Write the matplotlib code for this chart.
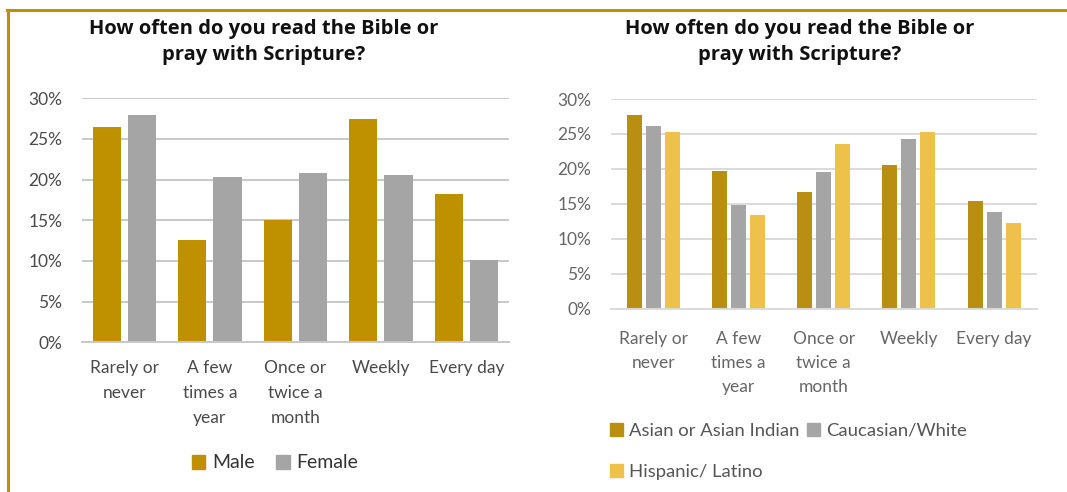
import numpy as np
import matplotlib.pyplot as plt
from matplotlib.patches import Patch
from matplotlib.lines import Line2D

categories = ['Rarely or\nnever', 'A few\ntimes a\nyear', 'Once or\ntwice a\nmonth', 'Weekly', 'Every day']
title = 'How often do you read the Bible or\npray with Scripture?'

# share of respondents (%) by gender
male = [26.5, 12.6, 15.0, 27.5, 18.2]
female = [27.9, 20.3, 20.8, 20.6, 10.1]

# share of respondents (%) by ethnicity
asian = [27.7, 19.7, 16.7, 20.5, 15.4]
caucasian = [26.1, 14.9, 19.6, 24.3, 13.9]
hispanic = [25.3, 13.4, 23.6, 25.3, 12.3]

yticks = [0, 5, 10, 15, 20, 25, 30]
ytick_labels = ['0%', '5%', '10%', '15%', '20%', '25%', '30%']

GOLD = '#BF9000'
GOLD_DARK = '#B98E12'
GRAY = '#A5A5A5'
LIGHT_GOLD = '#EEC24A'
FRAME = '#BF9000'

W, H = 1067, 492
plt.rcParams['font.family'] = ['Lato', 'DejaVu Sans']

fig = plt.figure(figsize=(W / 100, H / 100), dpi=100)

# gold frame along the top and left edge
fig.add_artist(Line2D([7 / W, 1], [1 - 10 / H, 1 - 10 / H], color=FRAME, lw=2.2))
fig.add_artist(Line2D([8 / W, 8 / W], [0, 1 - 10 / H], color=FRAME, lw=2.2))


def style_axes(ax, grid_color, label_color, pad, spacing):
    ax.set_ylim(0, 30)
    ax.set_xlim(-0.5, 4.5)
    ax.set_yticks(yticks)
    ax.set_yticklabels(ytick_labels)
    ax.yaxis.grid(True, color=grid_color, lw=1.4)
    ax.set_axisbelow(True)
    for s in ['top', 'right', 'left']:
        ax.spines[s].set_visible(False)
    ax.spines['bottom'].set_color(grid_color)
    ax.spines['bottom'].set_linewidth(1.4)
    ax.tick_params(axis='both', length=0, colors=label_color, labelsize=12.5)
    ax.tick_params(axis='y', pad=14)
    ax.set_xticks(np.arange(len(categories)))
    ax.set_xticklabels(categories, linespacing=spacing, va='top')
    ax.tick_params(axis='x', pad=pad)


def add_title(xc):
    fig.text(xc / W, 1 - 42 / H, title, ha='center', va='center', fontsize=14.5,
             fontweight='bold', family=['Open Sans', 'DejaVu Sans'], linespacing=1.45,
             color='#111111')


# left chart: gender
x = np.arange(len(categories))
ax1 = fig.add_axes([81.7 / W, 1 - 342.3 / H, 427.3 / W, 244 / H])
ax1.bar(x - 0.206, male, width=0.33, color=GOLD)
ax1.bar(x + 0.206, female, width=0.33, color=GRAY)
style_axes(ax1, '#C8C8C8', '#4A4A4A', 13, 1.68)
add_title(264)

fig.legend(handles=[Patch(color=GOLD, label='Male'), Patch(color=GRAY, label='Female')],
           loc='center', bbox_to_anchor=(275 / W, 1 - 463 / H), ncol=2,
           frameon=False, fontsize=14, handlelength=0.7, handleheight=0.7,
           handletextpad=0.35, columnspacing=1.1, labelcolor='#333333')

# right chart: ethnicity
ax2 = fig.add_axes([610.7 / W, 1 - 308.7 / H, 426 / W, 209.7 / H])
ax2.bar(x - 0.223, asian, width=0.176, color=GOLD_DARK)
ax2.bar(x, caucasian, width=0.176, color=GRAY)
ax2.bar(x + 0.223, hispanic, width=0.176, color=LIGHT_GOLD)
style_axes(ax2, '#DADADA', '#666666', 16, 1.62)
add_title(800)

fig.legend(handles=[Patch(color=GOLD_DARK, label='Asian or Asian Indian'),
                    Patch(color=LIGHT_GOLD, label='Hispanic/ Latino'),
                    Patch(color=GRAY, label='Caucasian/White')],
           loc='upper left', bbox_to_anchor=(610 / W, 1 - 423 / H), ncol=2,
           frameon=False, fontsize=13.3, handlelength=0.7, handleheight=0.7,
           handletextpad=0.35, columnspacing=0.4, labelspacing=1.35,
           labelcolor='#555555', borderpad=0, borderaxespad=0)

fig.savefig('out.png', dpi=100, facecolor='white')
